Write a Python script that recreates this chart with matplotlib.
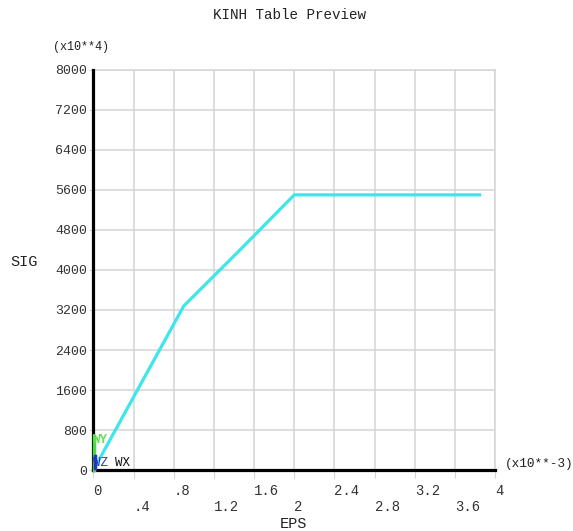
import matplotlib
matplotlib.use("Agg")
import matplotlib.pyplot as plt

# data (EPS in x10**-3, SIG in x10**4)
eps = [0.0, 0.9, 1.46, 2.0, 3.86]
sig = [0.0, 3280.0, 4400.0, 5500.0, 5500.0]

x_ticks = [0, 0.4, 0.8, 1.2, 1.6, 2.0, 2.4, 2.8, 3.2, 3.6, 4.0]
x_tick_labels = ["0", ".4", ".8", "1.2", "1.6", "2", "2.4", "2.8", "3.2", "3.6", "4"]
y_ticks = [0, 800, 1600, 2400, 3200, 4000, 4800, 5600, 6400, 7200, 8000]
y_tick_labels = ["0", "800", "1600", "2400", "3200", "4000", "4800", "5600", "6400", "7200", "8000"]

FONT = "Liberation Mono"
W, H = 573, 531
fig = plt.figure(figsize=(W / 100, H / 100), dpi=100)
fig.patch.set_facecolor("white")

left_px, right_px, top_px, bot_px = 93.3, 495.3, 69.7, 470.2
ax = fig.add_axes([left_px / W, 1 - bot_px / H, (right_px - left_px) / W, (bot_px - top_px) / H])

grid_c = "#d4d4d4"
ax.plot(eps, sig, color="#3de6ea", lw=2.3, solid_capstyle="butt", zorder=3)

ax.set_xlim(0, 4)
ax.set_ylim(0, 8000)

# alternating two-row x labels
labs = [l if i % 2 == 0 else "\n" + l for i, l in enumerate(x_tick_labels)]
ax.set_xticks(x_ticks)
ax.set_xticklabels(labs, fontfamily=FONT, fontsize=10, color="#333333", ha="left",
                   linespacing=1.15)
ax.set_yticks(y_ticks)
ax.set_yticklabels(y_tick_labels, fontfamily=FONT, fontsize=9.5, color="#333333")
ax.tick_params(axis="x", direction="out", length=6, width=0.8, color=grid_c, pad=4)
ax.tick_params(axis="y", direction="out", length=3, width=0.8, color=grid_c, pad=1.5)

ax.grid(True, color=grid_c, lw=1.1)
ax.set_axisbelow(True)
for s in ["top", "right"]:
    ax.spines[s].set_color(grid_c)
    ax.spines[s].set_linewidth(1.1)
for s in ["left", "bottom"]:
    ax.spines[s].set_color("black")
    ax.spines[s].set_linewidth(2.3)
    ax.spines[s].set_zorder(4)

# triad
ax.plot([0.002, 0.002], [0, 0.085], transform=ax.transAxes, color="#44dd44", lw=2.5, zorder=5,
        clip_on=False)
ax.plot([0.003, 0.003], [0.005, 0.035], transform=ax.transAxes, color="#2233cc", lw=2.5, zorder=6,
        clip_on=False)
ax.text(0.0, 0.075, "WY", transform=ax.transAxes, color="#66dd55", fontfamily=FONT,
        fontsize=9, va="center", ha="left", fontweight="bold", zorder=6)
ax.text(0.0, 0.018, "WZ", transform=ax.transAxes, color="#2233bb", fontfamily=FONT,
        fontsize=9, va="center", ha="left", zorder=6)
ax.text(0.054, 0.018, "WX", transform=ax.transAxes, color="#111111", fontfamily=FONT,
        fontsize=9, va="center", ha="left", zorder=6)

# texts
fig.text(289.5 / W, 1 - 15 / H, "KINH Table Preview", fontfamily=FONT, fontsize=10.3,
         ha="center", va="center", color="#222222")
fig.text(53 / W, 1 - 46.7 / H, "(x10**4)", fontfamily=FONT, fontsize=8.5,
         ha="left", va="center", color="#222222")
fig.text(10 / W, 1 - 262 / H, "SIG", fontfamily=FONT, fontsize=11,
         ha="left", va="center", color="#222222")
fig.text(293 / W, 1 - 524 / H, "EPS", fontfamily=FONT, fontsize=11,
         ha="center", va="center", color="#222222")
fig.text(505 / W, 1 - 464 / H, "(x10**-3)", fontfamily=FONT, fontsize=9.2,
         ha="left", va="center", color="#222222")

fig.savefig("out.png", dpi=100, facecolor="white")
